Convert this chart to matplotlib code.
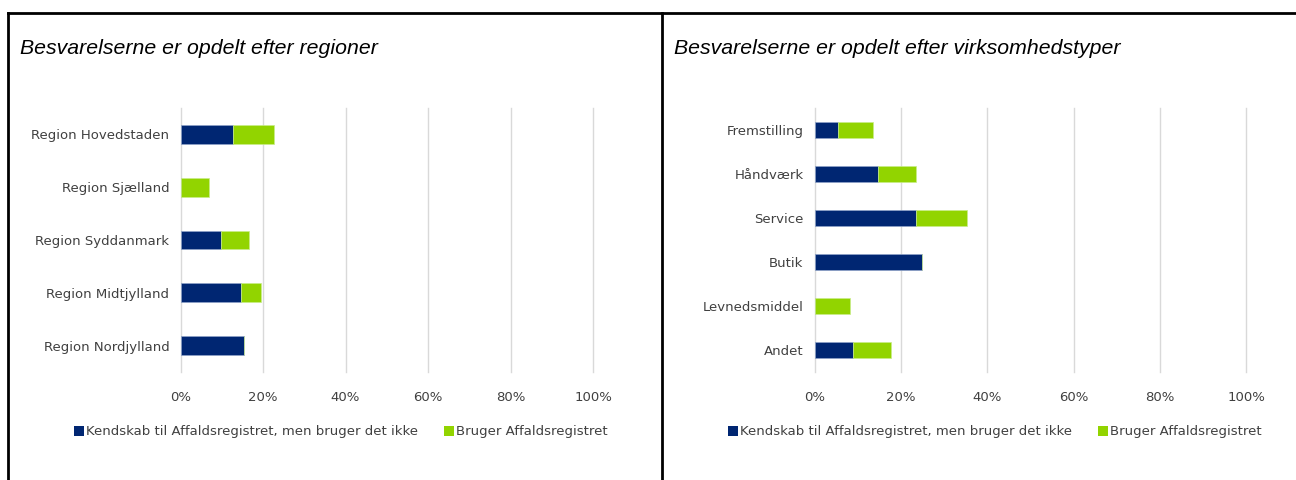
import matplotlib
matplotlib.use('Agg')
import matplotlib.pyplot as plt
from matplotlib.lines import Line2D
from matplotlib.patches import Patch

# data (percent)
regions = ['Region Hovedstaden', 'Region Sjælland', 'Region Syddanmark',
           'Region Midtjylland', 'Region Nordjylland']
reg_kender = [12.8, 0.0, 9.9, 14.6, 15.3]
reg_bruger = [9.9, 7.0, 6.8, 4.9, 0.0]

typer = ['Fremstilling', 'Håndværk', 'Service', 'Butik', 'Levnedsmiddel', 'Andet']
typ_kender = [5.3, 14.7, 23.5, 24.9, 0.0, 8.8]
typ_bruger = [8.2, 8.8, 11.8, 0.0, 8.2, 8.9]

xticks = [0, 20, 40, 60, 80, 100]
xticklabels = ['0%', '20%', '40%', '60%', '80%', '100%']

titles = ['Besvarelserne er opdelt efter regioner',
          'Besvarelserne er opdelt efter virksomhedstyper']
serie_navne = ['Kendskab til Affaldsregistret, men bruger det ikke',
               'Bruger Affaldsregistret']

navy = '#002672'
green = '#92d400'
grid_col = '#d9d9d9'
txt_col = '#404040'
lab_font = ['DejaVu Sans Condensed', 'DejaVu Sans']

W, H = 1296, 480
fig = plt.figure(figsize=(W / 100, H / 100), dpi=100)


def draw_panel(rect, cats, kender, bruger):
    ax = fig.add_axes(rect)
    ypos = list(range(len(cats)))
    ax.barh(ypos, kender, height=0.355, color=navy, edgecolor='#8fa3c8',
            linewidth=0.5, zorder=3)
    ax.barh(ypos, bruger, left=kender, height=0.355, color=green,
            edgecolor='#c8ec8a', linewidth=0.5, zorder=3)
    ax.set_ylim(len(cats) - 0.5, -0.5)
    ax.set_xlim(0, 100)
    ax.set_xticks(xticks)
    ax.set_xticklabels(xticklabels, family=lab_font, fontsize=9.5, color=txt_col)
    ax.set_yticks(ypos)
    ax.set_yticklabels(cats, family=lab_font, fontsize=9.5, color=txt_col)
    ax.tick_params(length=0, pad=8)
    ax.tick_params(axis='x', pad=14)
    for s in ax.spines.values():
        s.set_visible(False)
    ax.grid(axis='x', color=grid_col, linewidth=1, zorder=0)
    for g in ax.xaxis.get_gridlines():
        g.set_clip_on(False)
    return ax


ax1 = draw_panel([180.5 / W, 1 - 372 / H, 412.5 / W, 264 / H], regions, reg_kender, reg_bruger)
ax2 = draw_panel([814.7 / W, 1 - 372 / H, 431.7 / W, 264 / H], typer, typ_kender, typ_bruger)

# titles
fig.text(20 / W, 1 - 48 / H, titles[0], family='Liberation Sans', style='italic',
         fontsize=15.3, va='center', ha='left', color='black')
fig.text(674 / W, 1 - 48 / H, titles[1], family='Liberation Sans', style='italic',
         fontsize=15.3, va='center', ha='left', color='black')

# legends
handles = [Patch(facecolor=navy, edgecolor='none'), Patch(facecolor=green, edgecolor='none')]
for cx in (341, 995):
    leg = fig.legend(handles, serie_navne, loc='center', bbox_to_anchor=(cx / W, 1 - 432 / H),
                     ncol=2, frameon=False, handlelength=0.75, handleheight=0.75,
                     handletextpad=0.15, columnspacing=2.0,
                     prop={'family': lab_font, 'size': 9.5})
    for t in leg.get_texts():
        t.set_color(txt_col)

# panel borders
lw = 2
fig.add_artist(Line2D([8 / W, 1], [1 - 12.5 / H, 1 - 12.5 / H], color='black', lw=lw))
fig.add_artist(Line2D([8 / W, 8 / W], [0, 1 - 12.5 / H], color='black', lw=lw))
fig.add_artist(Line2D([662 / W, 662 / W], [0, 1 - 12.5 / H], color='black', lw=lw))

fig.savefig('out.png', dpi=100)
